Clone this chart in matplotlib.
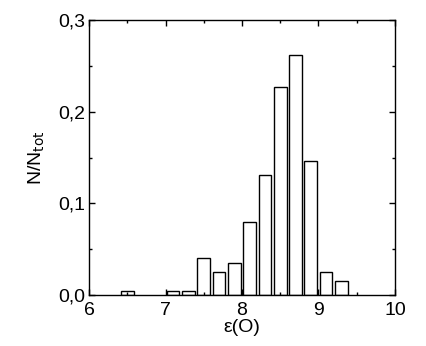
import numpy as np
import matplotlib.pyplot as plt
from matplotlib.ticker import MultipleLocator, FuncFormatter

plt.rcParams['font.family'] = ['Liberation Sans', 'DejaVu Sans']

# bin centres and fractions
centers = [6.5, 7.1, 7.3, 7.5, 7.7, 7.9, 8.1, 8.3, 8.5, 8.7, 8.9, 9.1, 9.3]
fractions = [0.005, 0.005, 0.005, 0.040, 0.025, 0.035, 0.080, 0.131,
             0.227, 0.262, 0.146, 0.025, 0.015]

fig = plt.figure(figsize=(4.26, 3.46), dpi=100)
ax = fig.add_axes([0.209, 0.147, 0.718, 0.795])

ax.bar(centers, fractions, width=0.165, color='white', edgecolor='black',
       linewidth=1.0)

ax.set_xlim(6, 10)
ax.set_ylim(0, 0.3)
ax.xaxis.set_major_locator(MultipleLocator(1))
ax.xaxis.set_minor_locator(MultipleLocator(0.5))
ax.yaxis.set_major_locator(MultipleLocator(0.1))
ax.yaxis.set_minor_locator(MultipleLocator(0.05))
ax.yaxis.set_major_formatter(FuncFormatter(lambda v, p: f'{v:.1f}'.replace('.', ',')))

ax.tick_params(which='both', direction='in', top=True, right=True, labelsize=14,
               width=1.0)
ax.tick_params(axis='x', which='major', pad=5)
ax.tick_params(axis='y', which='major', pad=3)
ax.tick_params(which='major', length=4)
ax.tick_params(which='minor', length=2.5)
for s in ax.spines.values():
    s.set_linewidth(1.0)

ax.set_xlabel('ε(O)', fontsize=14, labelpad=0)
ax.set_ylabel('N/N$_{\\mathrm{tot}}$', fontsize=14, labelpad=8)

fig.savefig('out.png', dpi=100)
